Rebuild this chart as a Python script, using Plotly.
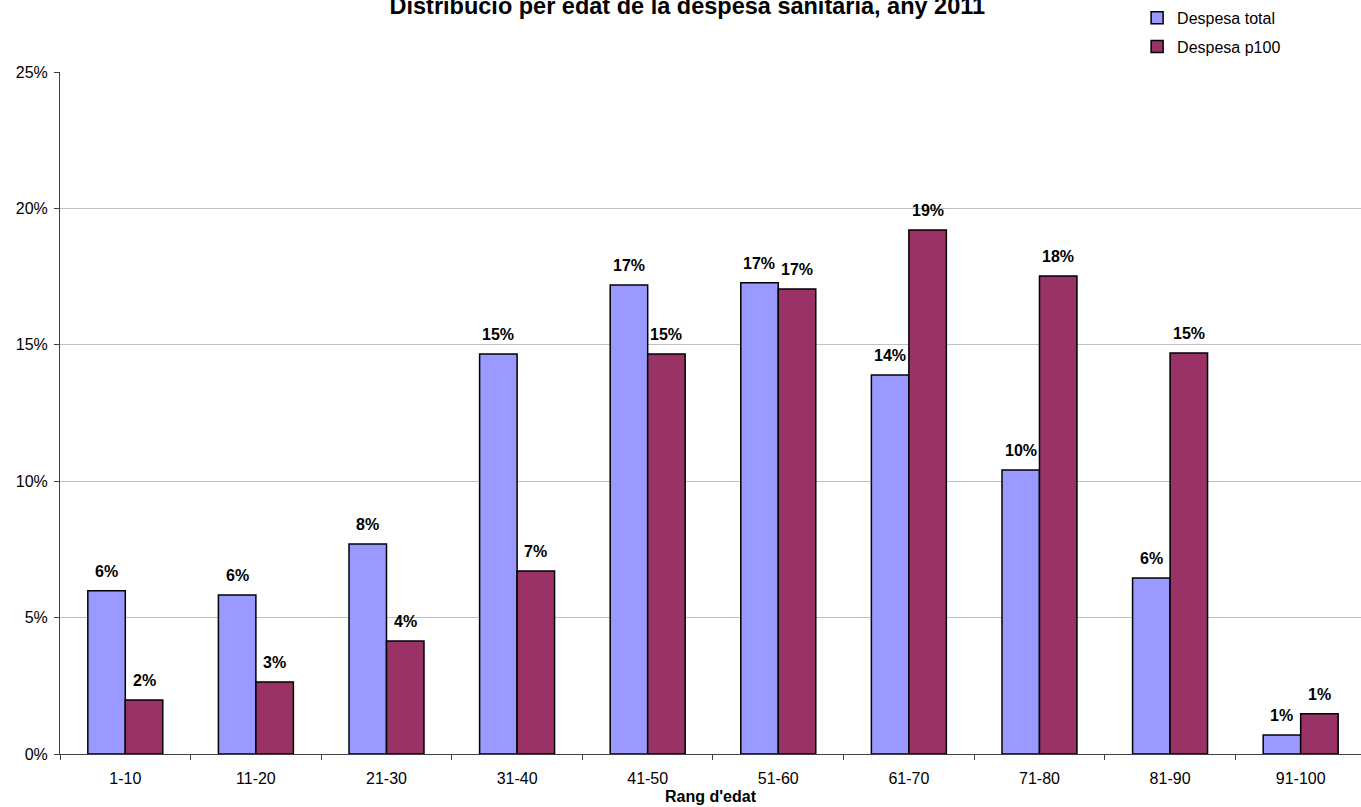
import plotly.graph_objects as go

categories = ["1-10", "11-20", "21-30", "31-40", "41-50", "51-60", "61-70", "71-80", "81-90", "91-100"]
despesa_total = [0.0598, 0.0583, 0.0770, 0.1466, 0.1719, 0.1727, 0.1389, 0.1041, 0.0645, 0.0070]
despesa_p100 = [0.0198, 0.0264, 0.0414, 0.0671, 0.1466, 0.1705, 0.1921, 0.1752, 0.1470, 0.0148]
y_ticks = [0, 0.05, 0.10, 0.15, 0.20, 0.25]
y_tick_labels = ["0%", "5%", "10%", "15%", "20%", "25%"]

FONT = "Liberation Sans, Arial"

fig = go.Figure()
fig.add_trace(go.Bar(name="Despesa total", x=categories, y=despesa_total,
                     marker=dict(color="#9999FF", line=dict(color="#000000", width=1.5)),
                     legendgroup="a"))
fig.add_trace(go.Bar(name="Despesa p100", x=categories, y=despesa_p100,
                     marker=dict(color="#993366", line=dict(color="#000000", width=1.5)),
                     legendgroup="b"))

annotations = []
for series, shift in ((despesa_total, -18.8), (despesa_p100, 18.8)):
    for c, v in zip(categories, series):
        annotations.append(dict(x=c, y=v, xref="x", yref="y", text="<b>%d%%</b>" % round(v * 100),
                                showarrow=False, xshift=shift, yshift=9, yanchor="bottom",
                                font=dict(family=FONT, size=16, color="#000")))

fig.update_layout(
    width=1361, height=807,
    margin=dict(l=60, r=0, t=72, b=53, autoexpand=False),
    paper_bgcolor="white", plot_bgcolor="white",
    barmode="group", bargap=0.426, bargroupgap=0,
    font=dict(family=FONT, size=16, color="#000"),
    title=dict(text="<b>Distribució per edat de la despesa sanitària, any 2011</b>",
               x=0.505, xanchor="center", xref="container",
               y=1 - 6 / 807, yanchor="middle", yref="container",
               font=dict(family=FONT, size=23.5, color="#000")),
    legend=dict(x=0.8355, xanchor="left", y=0.999, yanchor="top", xref="container", yref="container",
                font=dict(family=FONT, size=16), tracegroupgap=5,
                bgcolor="rgba(0,0,0,0)"),
    annotations=annotations,
)
fig.update_xaxes(range=[-0.5, 9.462], showline=True, linecolor="#404040", linewidth=1,
                 ticks="outside", tickson="boundaries", ticklen=5, tickcolor="#404040",
                 tickfont=dict(family=FONT, size=16), ticklabelstandoff=10,
                 title=dict(text="<b>Rang d'edat</b>", font=dict(family=FONT, size=16), standoff=4))
fig.update_yaxes(range=[0, 0.25], tickvals=y_ticks, ticktext=y_tick_labels,
                 showline=True, linecolor="#404040", linewidth=1, ticks="outside", ticklen=5,
                 tickcolor="#404040", showgrid=True, gridcolor="#c0c0c0", gridwidth=1,
                 zeroline=False, tickfont=dict(family=FONT, size=16), ticklabelstandoff=3)

fig.write_html("out.html", config={"displayModeBar": False},
               post_script="document.body.style.margin='0';document.body.style.overflow='hidden';")
